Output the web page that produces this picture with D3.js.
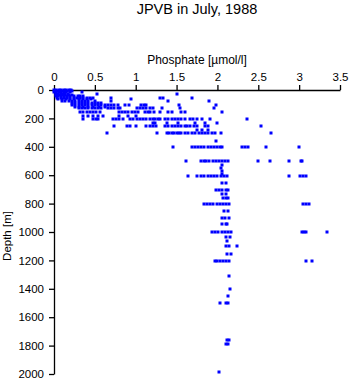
<!DOCTYPE html>
<html><head><meta charset="utf-8">
<script src="https://cdn.jsdelivr.net/npm/d3@7"></script>
<style>body{margin:0;background:#fff}svg{display:block}text{font-family:"Liberation Sans",Arial,sans-serif}</style>
</head><body>
<svg id="c" width="350" height="384"></svg>
<script>
const title = "JPVB in July, 1988";
const xLabel = "Phosphate [\u00b5mol/l]";
const yLabel = "Depth [m]";
const xTicks = [0, 0.5, 1, 1.5, 2, 2.5, 3, 3.5];
const yTicks = [0, 200, 400, 600, 800, 1000, 1200, 1400, 1600, 1800, 2000];

// sampling depths (m) and phosphate values (µmol/l) observed at each depth
const depthLevels = [0, 8, 16, 25, 35, 45, 55, 65, 80, 95, 105, 118, 130, 157, 180, 205, 230, 256, 282, 305, 357, 404, 502, 530, 550, 570, 590, 603, 657, 704, 735, 763, 805, 852, 901, 946, 1002, 1033, 1066, 1101, 1155, 1205, 1308, 1404, 1449, 1502, 1760, 1790, 1988];
const phosphateAtLevel = [
  [0.0,0.03,0.06,0.09,0.12,0.15,0.18,0.21],
  [0.01,0.04,0.07,0.10,0.13,0.16,0.19,0.22],
  [0.0,0.03,0.06,0.09,0.12,0.15,0.2,0.34],
  [0.02,0.05,0.08,0.11,0.14,0.17,0.53,1.51],
  [0.03,0.06,0.1,0.14,0.18,0.22],
  [0.02,0.05,0.08,0.12,0.16,0.2,0.25,0.29,0.32,0.36],
  [0.04,0.08,0.12,0.16,0.2,0.24,0.28,0.32,0.36,0.4,0.44,0.48,0.7,1.3,1.33,1.69],
  [0.05,0.1,0.15,0.2,0.25,0.3,0.35,0.4,0.45,0.94],
  [0.1,0.14,0.18,0.22,0.26,0.3,0.34,0.38,0.42,0.5,0.7,1.39,1.9],
  [0.22,0.26,0.3,0.34,0.38,0.42,0.46,0.5,0.54,0.58],
  [0.22,0.26,0.3,0.34,0.38,0.42,0.46,0.5,0.54,0.58,0.62,0.66,0.7,0.74,0.78,0.87,0.92,1.07,1.1,1.13,1.53,1.98],
  [0.26,0.3,0.36,0.42,0.48,0.55,0.62],
  [0.3,0.34,0.38,0.42,0.46,0.5,0.54,0.58,0.66,0.7,0.74,0.78,0.81,1.01,1.05,1.09,1.13,1.17,1.21,1.32,1.54,1.96],
  [0.32,0.36,0.4,0.44,0.48,0.52,0.56,0.79,0.83,0.87,0.91,0.95,0.99,1.03,1.11,1.15,1.18,1.22,1.3,1.4,1.44,1.56,1.6,2.05],
  [0.36,0.42,0.48,0.54,0.6,0.8,0.9,1.0],
  [0.36,0.48,0.51,0.54,0.72,0.76,0.8,0.84,0.93,0.97,1.01,1.05,1.09,1.13,1.17,1.21,1.24,1.27,1.3,1.36,1.4,1.44,1.48,1.52,1.56,1.6,1.66,1.7,1.75,1.81,1.91,2.36],
  [1.21,1.24,1.38,1.52,1.73,1.85,1.99],
  [0.73,0.89,0.93,1.0,1.13,1.17,1.21,1.25,1.36,1.4,1.44,1.48,1.52,1.56,1.6,1.63,1.67,1.71,1.75,1.85,1.89,2.53],
  [1.75,1.81,1.88],
  [0.65,1.26,1.38,1.41,1.44,1.47,1.5,1.53,1.56,1.6,1.64,1.69,1.73,1.77,1.81,1.85,1.89,1.93,1.97,2.04,2.66],
  [1.98],
  [1.46,1.69,1.72,1.76,1.8,1.84,1.88,1.92,1.96,2.0,2.03,2.06,2.3,2.34,2.37,2.59,3.0],
  [1.61,1.8,1.83,1.86,1.9,1.94,1.98,2.02,2.06,2.09,2.13,2.5,2.64,2.88,3.02,3.04],
  [2.05],
  [2.04],
  [2.06],
  [2.05],
  [1.64,1.75,1.8,1.84,1.88,1.92,1.96,2.0,2.04,2.08,2.12,2.87,3.01,3.05,3.09],
  [2.05,2.1],
  [1.98,2.02,2.06,2.1,2.13],
  [2.05,2.1],
  [2.07,2.11,2.13],
  [1.83,1.87,1.91,1.95,1.99,2.03,2.07,2.11,2.14,3.05,3.09,3.12],
  [2.08,2.13],
  [2.05,2.09,2.14],
  [2.05,2.1,2.12],
  [1.93,1.97,2.01,2.05,2.09,2.13,2.17,3.03,3.06,3.09,3.34],
  [2.1,2.15],
  [2.12],
  [2.1,2.14,2.24],
  [2.12,2.16],
  [1.97,2.0,2.03,2.07,2.1,2.14,3.08,3.16],
  [2.14],
  [2.15],
  [2.13],
  [2.03,2.1,2.13],
  [2.12,2.14],
  [2.11,2.13],
  [2.02]
];

(function () {
  const pts = [];
  depthLevels.forEach((d, i) => phosphateAtLevel[i].forEach(v => pts.push({v, d})));

  const svg = d3.select("#c");
  const mL = 54, mR = 340, mT = 90, mB = 374;
  const x = d3.scaleLinear().domain([0, 3.5]).range([mL, mR]);
  const y = d3.scaleLinear().domain([0, 2000]).range([mT, mB]);

  svg.append("text").attr("x", (mL + mR) / 2).attr("y", 14).attr("text-anchor", "middle")
    .attr("font-size", 14.5).text(title);

  const xa = svg.append("g").attr("transform", `translate(0,${mT})`)
    .call(d3.axisTop(x).tickValues(xTicks).tickFormat(d3.format("")).tickSize(5).tickPadding(4).tickSizeOuter(0));
  const ya = svg.append("g").attr("transform", `translate(${mL},0)`)
    .call(d3.axisLeft(y).tickValues(yTicks).tickFormat(d3.format("")).tickSize(5).tickPadding(5).tickSizeOuter(0));
  [xa, ya].forEach(a => {
    a.selectAll("text").attr("font-size", 11.5).attr("font-family", '"Liberation Sans",Arial,sans-serif').attr("fill", "#000");
    a.selectAll("line").attr("stroke", "#000").attr("stroke-width", 1.3);
    a.select(".domain").attr("stroke", "#000").attr("stroke-width", 1.3);
  });

  svg.append("text").attr("x", (mL + mR) / 2).attr("y", 64).attr("text-anchor", "middle")
    .attr("font-size", 12).text(xLabel);
  svg.append("text").attr("transform", `translate(11,${(mT + mB) / 2 + 4}) rotate(-90)`)
    .attr("text-anchor", "middle").attr("font-size", 11.5).text(yLabel);

  svg.append("g").selectAll("rect").data(pts).join("rect")
    .attr("x", p => Math.round(x(p.v)) - 1.5).attr("y", p => Math.round(y(p.d)) - 1.5)
    .attr("width", 3).attr("height", 3).attr("fill", "#0000ff");
})();
</script>
</body></html>
